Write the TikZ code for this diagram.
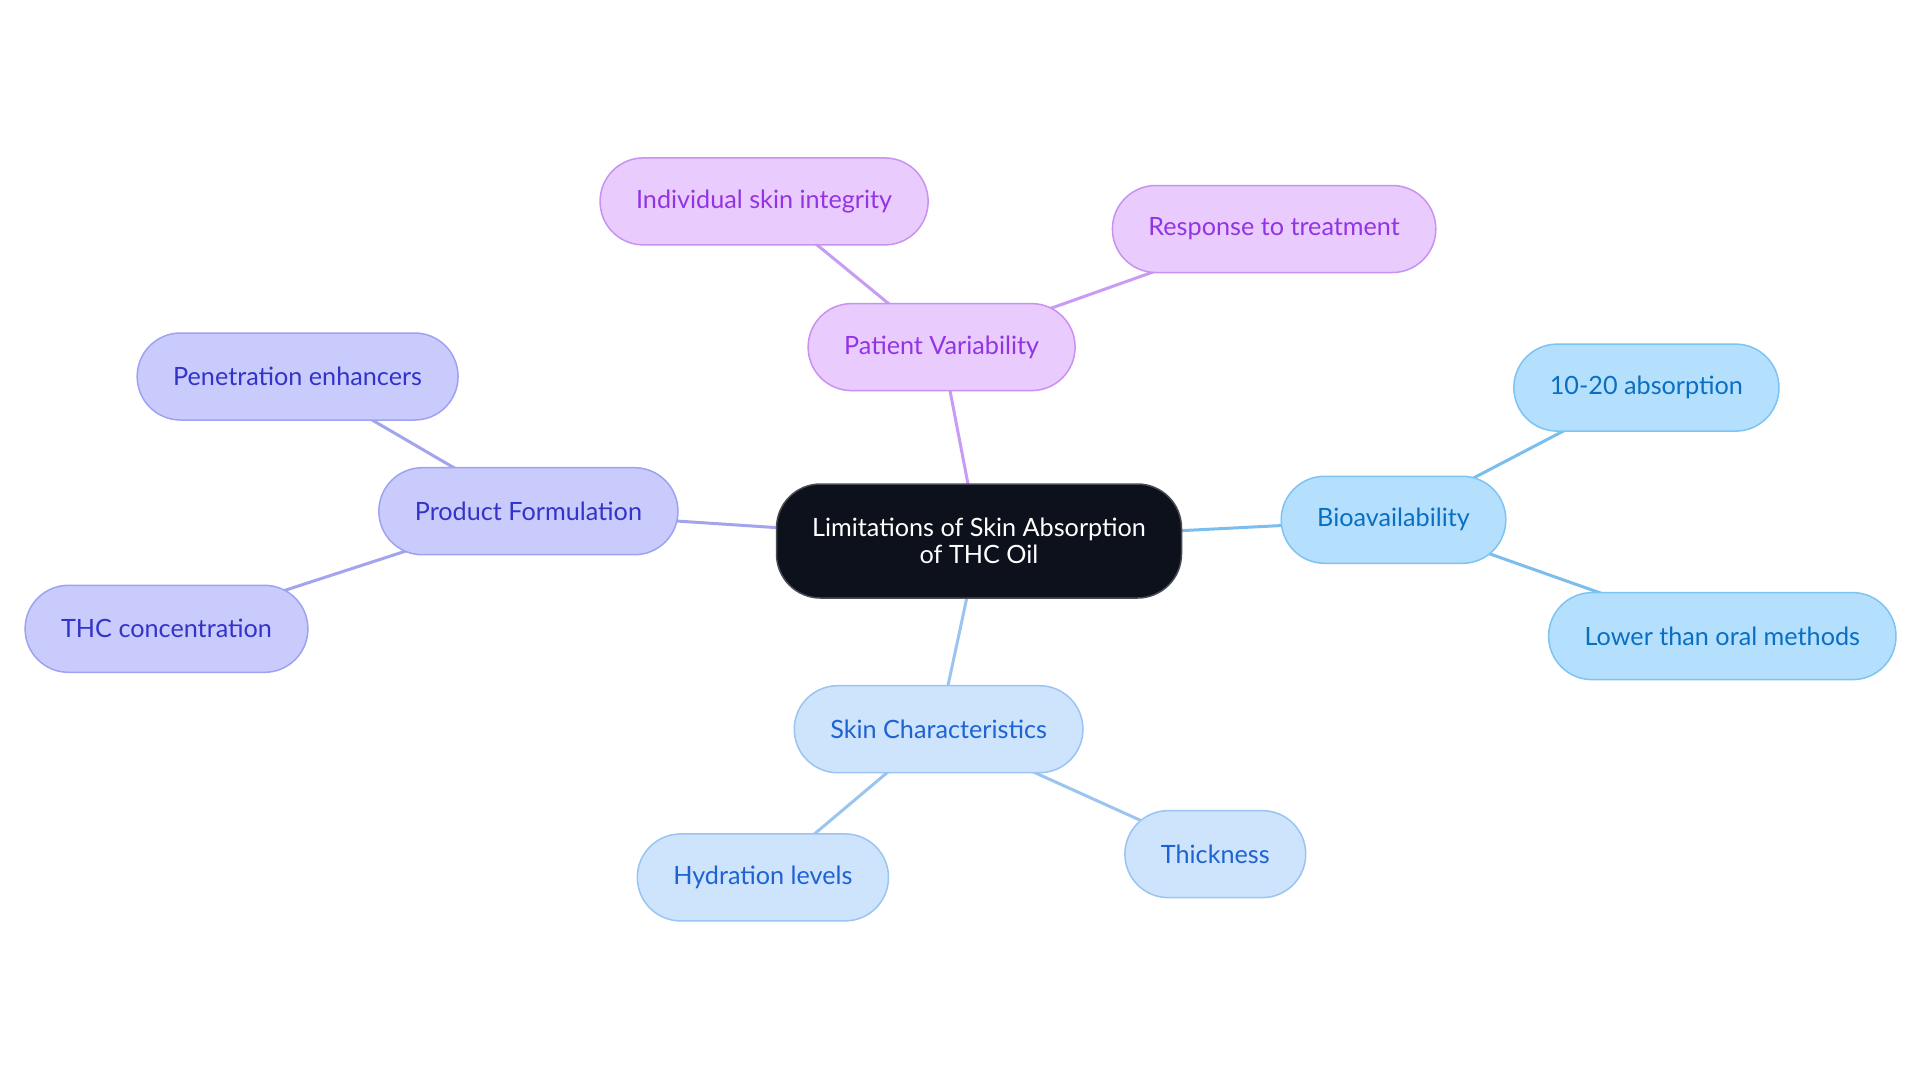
\documentclass[tikz,border=0pt]{standalone}
\usepackage{fontspec}
\setmainfont{Lato}
\usetikzlibrary{backgrounds}
\definecolor{purf}{HTML}{E9CCFD}
\definecolor{purd}{HTML}{C792F0}
\definecolor{purt}{HTML}{9234E4}
\definecolor{purl}{HTML}{C89BF4}
\definecolor{indf}{HTML}{C9CBFD}
\definecolor{indd}{HTML}{9FA2F0}
\definecolor{indt}{HTML}{3333C8}
\definecolor{indl}{HTML}{A2A4EE}
\definecolor{skyf}{HTML}{B5E0FD}
\definecolor{skyd}{HTML}{7DC3F3}
\definecolor{skyt}{HTML}{0A6FC2}
\definecolor{skyl}{HTML}{7BBEEE}
\definecolor{bluf}{HTML}{CEE3FC}
\definecolor{blud}{HTML}{9AC4F1}
\definecolor{blut}{HTML}{1D63D3}
\definecolor{blul}{HTML}{9CC4F0}
\definecolor{core}{HTML}{0C111B}

\begin{document}
\begin{tikzpicture}[x=0.5pt, y=-0.5pt,
                pill/.style={rounded corners=21.7pt, minimum height=43.5pt, inner xsep=18pt,
                    line width=0.75pt, font=\fontsize{12.6}{14}\selectfont},
                pur/.style={pill, fill=purf, draw=purd, text=purt},
                ind/.style={pill, fill=indf, draw=indd, text=indt},
                sky/.style={pill, fill=skyf, draw=skyd, text=skyt},
                blu/.style={pill, fill=bluf, draw=blud, text=blut},
                link/.style={line width=1.5pt}]
            \useasboundingbox (0,0) rectangle (1920,1083);
            \node[rounded corners=22pt, fill=core, draw=core!75!white, line width=0.75pt, text=white,
                minimum width=202.5pt, minimum height=57pt, align=center,
                font=\fontsize{12.6}{13.5}\selectfont] (root) at (979,541)
                {Limitations of Skin Absorption\\of THC Oil};
            % patient branch
            \node[pur] (pat) at (941.6,347.1) {Patient Variability};
            \node[pur] (integ) at (764.1,201.4) {Individual skin integrity};
            \node[pur] (resp) at (1274.1,229) {Response to treatment};
            % formulation branch
            \node[ind] (form) at (528.4,511.2) {Product Formulation};
            \node[ind] (enh) at (297.6,376.5) {Penetration enhancers};
            \node[ind] (conc) at (166.5,628.8) {THC concentration};
            % bioavailability branch
            \node[sky] (bio) at (1393.5,519.8) {Bioavailability};
            \node[sky] (abs) at (1646.4,387.6) {10-20 absorption};
            \node[sky] (oral) at (1722.3,636.1) {Lower than oral methods};
            % skin branch
            \node[blu] (skin) at (938.6,729.2) {Skin Characteristics};
            \node[blu] (hyd) at (762.9,877.4) {Hydration levels};
            \node[blu] (thick) at (1215.3,854.1) {Thickness};
            \begin{pgfonlayer}{background}
                \fill[white] (0,0) rectangle (1920,1083);
                \draw[link, purl] (root.center) -- (pat.center);
                \draw[link, purl] (pat.center) -- (integ.center);
                \draw[link, purl] (pat.center) -- (resp.center);
                \draw[link, indl] (root.center) -- (form.center);
                \draw[link, indl] (form.center) -- (enh.center);
                \draw[link, indl] (form.center) -- (conc.center);
                \draw[link, skyl] (root.center) -- (bio.center);
                \draw[link, skyl] (bio.center) -- (abs.center);
                \draw[link, skyl] (bio.center) -- (oral.center);
                \draw[link, blul] (root.center) -- (skin.center);
                \draw[link, blul] (skin.center) -- (hyd.center);
                \draw[link, blul] (skin.center) -- (thick.center);
            \end{pgfonlayer}
        \end{tikzpicture}
\end{document}
